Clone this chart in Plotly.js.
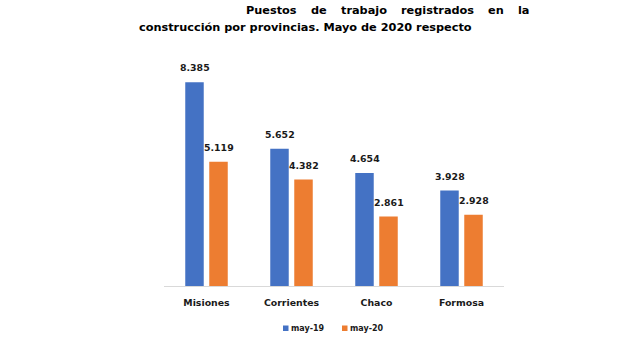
<!DOCTYPE html>
<html>
<head>
<meta charset="utf-8">
<script src="https://cdn.plot.ly/plotly-3.0.1.min.js"></script>
<style>html,body{margin:0;padding:0;background:#fff}#chart{width:640px;height:338px}</style>
</head>
<body>
<div id="chart"></div>
<script>
var categories = ["Misiones", "Corrientes", "Chaco", "Formosa"];
var seriesNames = ["may-19", "may-20"];
var may19 = [8385, 5652, 4654, 3928];
var may20 = [5119, 4382, 2861, 2928];
var titleLine1 = ["Puestos", "de", "trabajo", "registrados", "en", "la"];
var titleLine2 = "construcción por provincias. Mayo de 2020 respecto";

var colors = ["#4472C4", "#ED7D31"];
var F = "DejaVu Sans";

// layout geometry (pixels)
var L = 164, R = 136, T = 67, B = 52, W = 640, H = 338;
var pw = W - L - R, ph = H - T - B;
function px(x) { return (x - L) / pw; }
function py(y) { return (H - B - y) / ph; }

function fmt(v) {
  return String(v).replace(/\B(?=(\d{3})+(?!\d))/g, ".");
}

var series = [may19, may20];
var traces = series.map(function (vals, i) {
  return {
    type: "bar",
    name: seriesNames[i],
    x: categories,
    y: vals,
    marker: { color: colors[i] },
    showlegend: false,
    hoverinfo: "none"
  };
});

var annotations = [];
series.forEach(function (vals, i) {
  vals.forEach(function (v, j) {
    annotations.push({
      x: categories[j], y: v, xref: "x", yref: "y",
      text: fmt(v), showarrow: false,
      xanchor: "center", yanchor: "bottom",
      xshift: i === 0 ? -12 : 12, yshift: 7,
      font: { family: F, size: 9.4, color: "#1a1a1a", weight: 700 }
    });
  });
});

// title line 1, justified words
var titleSize = 11.3;
var wordX = [245, 309.7, 339.6, 399.7, 486.9, 516.7];
titleLine1.forEach(function (w, k) {
  annotations.push({
    x: px(wordX[k]), y: py(10), xref: "paper", yref: "paper",
    text: w, showarrow: false, xanchor: "left", yanchor: "middle",
    borderpad: 0,
    font: { family: F, size: titleSize, color: "#000", weight: 700 }
  });
});
annotations.push({
  x: px(138), y: py(28), xref: "paper", yref: "paper",
  text: titleLine2, showarrow: false, xanchor: "left", yanchor: "middle",
  borderpad: 0,
  font: { family: F, size: titleSize, color: "#000", weight: 700 }
});

// manual legend
var shapes = [];
var legendX = [283, 342];
seriesNames.forEach(function (n, i) {
  shapes.push({
    type: "rect", xref: "paper", yref: "paper",
    x0: px(legendX[i]), x1: px(legendX[i] + 5.5),
    y0: py(331), y1: py(325.5),
    fillcolor: colors[i], line: { width: 0 }
  });
  annotations.push({
    x: px(legendX[i] + 7), y: py(328), xref: "paper", yref: "paper",
    text: n, showarrow: false, xanchor: "left", yanchor: "middle",
    borderpad: 0,
    font: { family: F, size: 8, color: "#1a1a1a", weight: 700 }
  });
});

var layout = {
  width: W, height: H,
  margin: { l: L, r: R, t: T, b: B, pad: 0 },
  paper_bgcolor: "#fff", plot_bgcolor: "#fff",
  barmode: "group", bargap: 0.435, bargroupgap: 0.23,
  showlegend: false,
  xaxis: {
    type: "category",
    showline: true, linecolor: "#d9d9d9", linewidth: 1,
    showgrid: false, zeroline: false, ticks: "",
    ticklabelstandoff: 8,
    tickfont: { family: F, size: 9.4, color: "#1a1a1a", weight: 700 },
    fixedrange: true
  },
  yaxis: {
    range: [0, 9015], visible: false, showgrid: false, zeroline: false,
    fixedrange: true
  },
  annotations: annotations,
  shapes: shapes
};

Plotly.newPlot("chart", traces, layout, { displayModeBar: false, staticPlot: true });
</script>
</body>
</html>
